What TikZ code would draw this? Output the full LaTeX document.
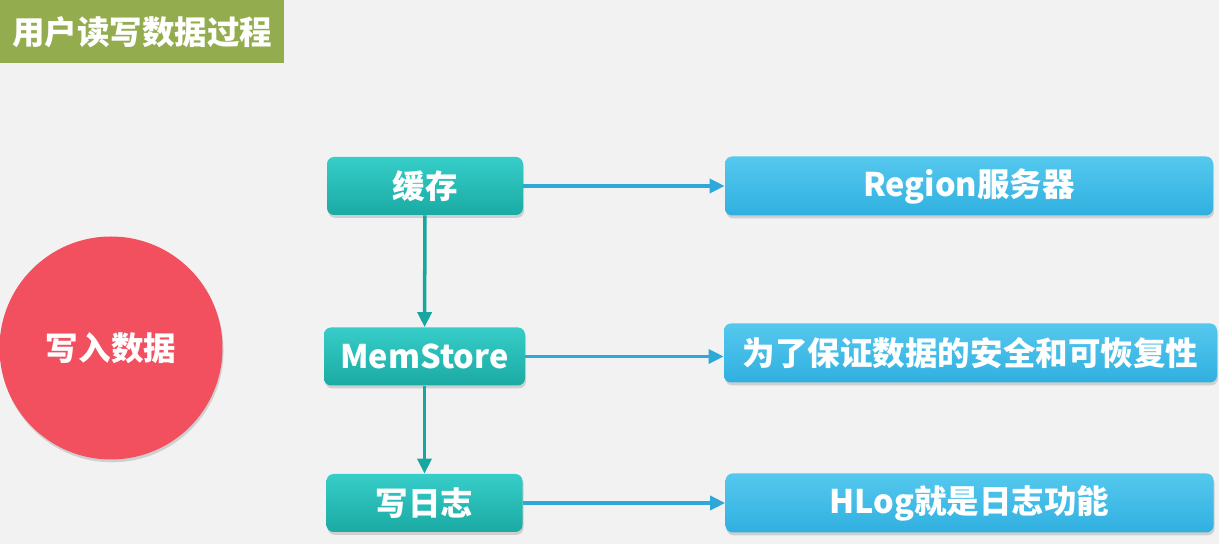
\documentclass[tikz,border=0pt]{standalone}
\usepackage{fontspec}
\setmainfont{Noto Sans CJK SC}
\usetikzlibrary{arrows.meta, positioning, calc, shadows}
\definecolor{PageGray}{RGB}{242,242,242}
\definecolor{TitleGreen}{RGB}{147,172,77}
\definecolor{TealBox}{RGB}{26,170,163}
\definecolor{TealTop}{RGB}{55,205,200}
\definecolor{SkyBox}{RGB}{48,176,224}
\definecolor{SkyTop}{RGB}{85,200,238}
\definecolor{ArrowBlue}{RGB}{46,168,216}
\definecolor{ArrowTeal}{RGB}{24,166,160}
\definecolor{BallRed}{RGB}{242,80,94}

\begin{document}
\begin{tikzpicture}[
    x=0.2mm, y=-0.2mm,
    font=\fontsize{18.5}{20}\selectfont\bfseries,
    stepbox/.style={rounded corners=4pt, top color=TealTop, bottom color=TealBox,
        text=white, minimum width=3.92cm, minimum height=1.16cm, inner sep=0pt,
        drop shadow={shadow xshift=0.6pt, shadow yshift=-1.6pt, opacity=0.3}},
    infobox/.style={rounded corners=4pt, top color=SkyTop, bottom color=SkyBox,
        text=white, minimum width=9.76cm, minimum height=1.18cm, inner sep=0pt,
        drop shadow={shadow xshift=0.6pt, shadow yshift=-1.6pt, opacity=0.3}},
    link/.style={-{Triangle[length=3mm, width=2.8mm]}, line width=2pt, ArrowBlue},
    down/.style={-{Triangle[length=3mm, width=2.8mm]}, line width=2pt, ArrowTeal},
]
\useasboundingbox[fill=PageGray] (0,0) rectangle (1219,544);

\node[fill=TitleGreen, text=white, anchor=north west, minimum width=5.68cm,
      minimum height=1.26cm, inner sep=0pt] (title) at (0,0) {用户读写数据过程};

\node[circle, fill=BallRed, text=white, minimum size=4.46cm, inner sep=0pt,
      drop shadow={shadow xshift=0.6pt, shadow yshift=-1.6pt, opacity=0.3}]
    (write) at (111,348) {写入数据};

\node[stepbox] (cache) at (425,186) {缓存};
\node[stepbox, minimum width=4.02cm] (mem) at (424.5,356.5) {MemStore};
\node[stepbox] (log) at (424.5,503) {写日志};

\node[infobox] (region) at (969,186) {Region服务器};
\node[infobox, minimum width=9.86cm] (safe) at (970.5,353) {为了保证数据的安全和可恢复性};
\node[infobox] (hlog) at (969.5,503) {HLog就是日志功能};

% cache -> memstore -> log
\draw[down] (cache) -- (mem);
\draw[down] (mem) -- (log);

\foreach \a/\b in {cache/region, mem/safe, log/hlog} \draw[link] (\a) -- (\a -| \b.west);

\end{tikzpicture}
\end{document}
